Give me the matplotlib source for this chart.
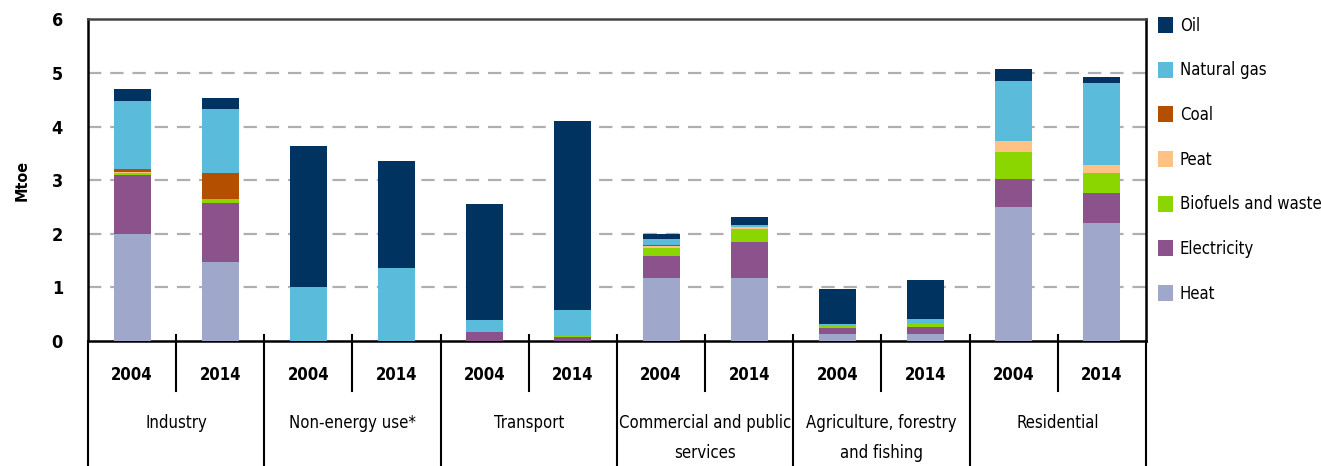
import matplotlib
matplotlib.use("Agg")
import matplotlib.pyplot as plt
import numpy as np
from matplotlib.lines import Line2D

plt.rcParams['font.family'] = ['DejaVu Sans']
plt.rcParams['font.stretch'] = 'condensed'

sectors = ["Industry", "Non-energy use*", "Transport", "Commercial and public\nservices",
           "Agriculture, forestry\nand fishing", "Residential"]
years = ["2004", "2014"]

fuels = ["Heat", "Electricity", "Biofuels and waste", "Peat", "Coal", "Natural gas", "Oil"]
colors = ["#9FA8CB", "#8B528C", "#8CD600", "#FFC184", "#B54F00", "#5BBBDA", "#00335F"]

# values per bar (Industry04, Industry14, NonEnergy04, NonEnergy14, Transport04, Transport14,
#  Commercial04, Commercial14, Agri04, Agri14, Residential04, Residential14)
heat        = [2.00, 1.48, 0.00, 0.00, 0.00, 0.00, 1.18, 1.17, 0.13, 0.13, 2.50, 2.21]
electricity = [1.10, 1.10, 0.00, 0.00, 0.16, 0.07, 0.41, 0.68, 0.11, 0.14, 0.53, 0.55]
biofuels    = [0.04, 0.07, 0.00, 0.00, 0.00, 0.02, 0.14, 0.24, 0.04, 0.07, 0.49, 0.38]
peat        = [0.02, 0.00, 0.00, 0.00, 0.00, 0.00, 0.04, 0.03, 0.00, 0.00, 0.21, 0.14]
coal        = [0.05, 0.48, 0.00, 0.00, 0.00, 0.00, 0.02, 0.00, 0.00, 0.00, 0.00, 0.00]
natural_gas = [1.27, 1.20, 1.00, 1.37, 0.23, 0.48, 0.11, 0.05, 0.03, 0.08, 1.13, 1.54]
oil         = [0.23, 0.21, 2.63, 1.98, 2.17, 3.54, 0.09, 0.15, 0.66, 0.72, 0.22, 0.11]

series = [heat, electricity, biofuels, peat, coal, natural_gas, oil]

fig = plt.figure(figsize=(13.21, 4.66), dpi=100)
ax = fig.add_axes([0.0666, 0.2682, 0.8009, 0.6900])

n = len(heat)
x = np.arange(n)
bottom = np.zeros(n)
handles = []
for vals, col, name in zip(series, colors, fuels):
    v = np.array(vals)
    b = ax.bar(x, v, width=0.42, bottom=bottom, color=col, edgecolor='none', label=name, zorder=3)
    bottom += v
    handles.append(b)

ax.set_xlim(-0.5, n - 0.5)
ax.set_ylim(0, 6)
ax.set_yticks(range(0, 7))
ax.set_yticklabels([str(i) for i in range(0, 7)], fontsize=13, fontweight='bold')
ax.tick_params(axis='y', length=0, pad=18)
ax.set_xticks([])
for yv in range(1, 6):
    ax.axhline(yv, color='#AFAFAF', lw=1.6, ls=(0, (6, 4)), zorder=1)

for side in ['left', 'bottom', 'right']:
    ax.spines[side].set_linewidth(1.8)
    ax.spines[side].set_color('black')
ax.spines['top'].set_linewidth(1.8)
ax.spines['top'].set_color('#444444')

ax.set_ylabel("Mtoe", fontsize=11.5, fontweight='bold', labelpad=16)

tr = ax.get_xaxis_transform()
bottom_y = -0.389
for xv in [-0.5, n - 0.5]:
    ax.add_line(Line2D([xv, xv], [0, bottom_y], transform=tr, color='black', lw=1.5, clip_on=False))
for k in range(1, len(sectors)):
    xv = 2 * k - 0.5
    ax.add_line(Line2D([xv, xv], [0.018, bottom_y], transform=tr, color='black', lw=1.5, clip_on=False))
for k in range(len(sectors)):
    xv = 2 * k + 0.5
    ax.add_line(Line2D([xv, xv], [0.018, -0.155], transform=tr, color='black', lw=1.5, clip_on=False))

for i in range(n):
    ax.text(x[i], -0.106, years[i % 2], transform=tr, ha='center', va='center',
            fontsize=12, fontweight='bold')
for k, s in enumerate(sectors):
    ax.text(2 * k + 0.5, -0.226, s, transform=tr, ha='center', va='top',
            fontsize=12, linespacing=1.85)

leg = fig.legend(handles[::-1], fuels[::-1], loc='upper left', bbox_to_anchor=(0.8766, 0.964),
                 frameon=False, fontsize=12, handlelength=0.9, handleheight=1.1,
                 handletextpad=0.4, labelspacing=1.6, borderpad=0, borderaxespad=0)

fig.savefig("out.png", dpi=100)
